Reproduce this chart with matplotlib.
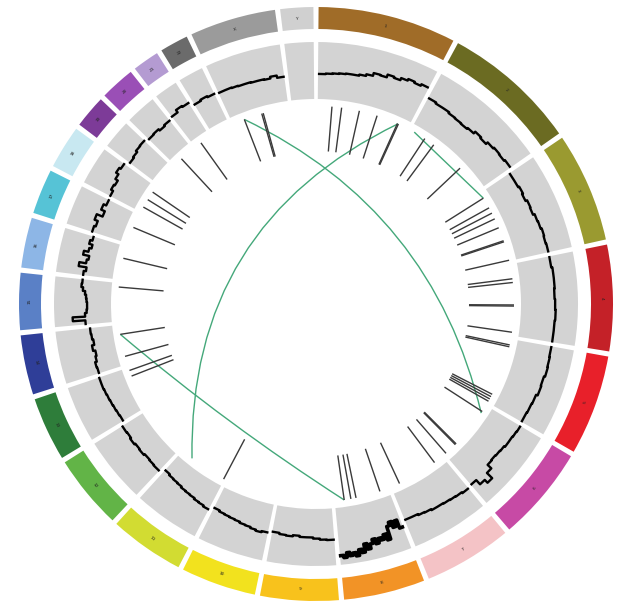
import numpy as np
import matplotlib
matplotlib.use('Agg')
import matplotlib.pyplot as plt
from matplotlib.path import Path
from matplotlib.patches import PathPatch

# chromosomes (hg19 sizes, Mb)
chroms = ['1', '2', '3', '4', '5', '6', '7', '8', '9', '10', '11', '12',
          '13', '14', '15', '16', '17', '18', '19', '20', '21', '22', 'X', 'Y']
chrom_len = [249.3, 243.2, 198.0, 191.2, 180.9, 171.1, 159.1, 146.4, 141.2, 135.5,
             135.0, 133.9, 115.2, 107.3, 102.5, 90.4, 81.2, 78.1, 59.1, 63.0,
             48.1, 51.3, 155.3, 59.4]
chrom_colors = ['#a06c28', '#6b6b22', '#9a9a30', '#c42128', '#e8202a', '#c74aa5',
                '#f4c3c6', '#f29326', '#f8c21c', '#f2e21e', '#d2dc32', '#62b447',
                '#2e7d3a', '#2f3e98', '#5a80c6', '#8db6e6', '#56c3d6', '#c8e8f1',
                '#7d3b98', '#9a4fb6', '#b49bd2', '#6b6b6b', '#9b9b9b', '#d0d0d0']

# copy number track, position inside grey band (0 = inner edge, 1 = outer edge)
cn_1 = [0.44, 0.45, 0.46, 0.47, 0.48, 0.48, 0.50, 0.53, 0.58, 0.57, 0.62, 0.60, 0.64, 0.67, 0.65, 0.68]
cn_2 = [0.52, 0.50, 0.50, 0.48, 0.47, 0.46, 0.48, 0.52, 0.50, 0.54, 0.56, 0.55, 0.57]
cn_3 = [0.50, 0.50, 0.52, 0.50, 0.53, 0.52, 0.55, 0.56, 0.58, 0.57, 0.58]
cn_4 = [0.58, 0.60, 0.60, 0.59, 0.60, 0.61, 0.60, 0.60]
cn_5 = [0.60, 0.61, 0.62, 0.60, 0.61, 0.58, 0.57, 0.56]
cn_6 = [0.58, 0.57, 0.56, 0.56, 0.54, 0.53, 0.52, 0.53, 0.62, 0.75, 0.68, 0.58]
cn_7 = [0.60, 0.58, 0.57, 0.56, 0.55, 0.55, 0.53, 0.52, 0.50, 0.50]
cn_8 = [0.60, 0.45, 0.55, 0.44, 0.50, 0.73, 0.62, 0.70, 0.66, 0.74, 0.65, 0.72, 0.80,
        0.70, 0.84, 0.78, 0.88, 0.82, 0.86, 0.80, 0.88, 0.84]
cn_9 = [0.55, 0.54, 0.52, 0.50, 0.50, 0.48, 0.50, 0.49, 0.47]
cn_10 = [0.50, 0.52, 0.50, 0.48, 0.47, 0.45, 0.44, 0.43, 0.42, 0.40]
cn_11 = [0.47, 0.45, 0.44, 0.42, 0.41, 0.40, 0.38, 0.37, 0.36, 0.34]
cn_12 = [0.42, 0.41, 0.40, 0.42, 0.41, 0.43, 0.41, 0.42]
cn_13 = [0.36, 0.37, 0.38, 0.39, 0.40, 0.41, 0.42, 0.42]
cn_14 = [0.40, 0.41, 0.38, 0.36, 0.40, 0.36, 0.38, 0.39]
cn_15 = [0.46, 0.68, 0.46, 0.43, 0.42, 0.42, 0.43, 0.44, 0.46, 0.50, 0.53, 0.52]
cn_16 = [0.52, 0.48, 0.62, 0.50, 0.47, 0.58, 0.50, 0.46, 0.52, 0.48]
cn_17 = [0.53, 0.50, 0.56, 0.45, 0.52, 0.47]
cn_18 = [0.48, 0.52, 0.50, 0.55, 0.60, 0.57]
cn_19 = [0.50, 0.52, 0.55, 0.56]
cn_20 = [0.52, 0.53, 0.50, 0.52]
cn_21 = [0.55, 0.60, 0.58]
cn_22 = [0.50, 0.52, 0.50]
cn_X = [0.48, 0.48, 0.47, 0.46, 0.46, 0.45, 0.45, 0.44, 0.47, 0.43]
cn_Y = []
cn_profiles = [cn_1, cn_2, cn_3, cn_4, cn_5, cn_6, cn_7, cn_8, cn_9, cn_10, cn_11, cn_12,
               cn_13, cn_14, cn_15, cn_16, cn_17, cn_18, cn_19, cn_20, cn_21, cn_22, cn_X, cn_Y]

# breakpoints (inner tick track)
tick_chrom = ['X', 'X', 'X', '1', '1', '1', '1', '1', '1', '2', '2', '2',
              '3', '3', '3', '3', '3', '3', '3', '3', '4', '4', '4', '4', '4',
              '5', '5', '5', '5', '5', '5', '6', '6', '6', '6', '7', '7',
              '8', '8', '8', '8', '11', '13', '13', '14', '14', '15', '16', '17',
              '18', '18', '18', '20', '21']
tick_pos = [33, 82, 86, 38, 64, 112, 161, 219, 222, 44, 73, 167,
            16, 46, 62, 79, 105, 142, 145, 196, 39, 49, 109, 112, 182,
            16, 21, 156, 163, 170, 177, 19, 130, 133, 167, 26, 135,
            23, 89, 103, 121, 2, 91, 107, 22, 82, 92, 58, 45,
            15, 38, 62, 24, 19]

# links
link_chrom_a = ['X', '1', '2', '14']
link_pos_a = [33, 221, 11, 82]
link_chrom_b = ['6', '11', '3', '8']
link_pos_b = [24, 103, 16, 121]

gap = 1.0
deg_per_mb = (360 - 24 * gap) / sum(chrom_len)
starts = []
acc = 0.5
for L in chrom_len:
    starts.append(acc)
    acc += L * deg_per_mb + gap


def to_theta(c, pos):
    i = chroms.index(c) if isinstance(c, str) else c
    return np.radians(starts[i] + np.asarray(pos) * deg_per_mb)


fig = plt.figure(figsize=(6.25, 6.05), dpi=100)
R = 301
ax = fig.add_axes([(316 - R) / 625, 0, 2 * R / 625, 2 * R / 605], projection='polar')
ax.set_theta_zero_location('N')
ax.set_theta_direction(-1)

spans = np.radians(np.array(chrom_len) * deg_per_mb)
mids = np.array([to_theta(i, L / 2) for i, L in enumerate(chrom_len)])

# outer ideogram ring
ax.bar(mids, 22, width=spans, bottom=275, color=chrom_colors, edgecolor='none')
for i, c in enumerate(chroms):
    a = np.degrees(mids[i])
    rot = -a if (a < 90 or a > 270) else 180 - a
    ax.text(mids[i], 286, c, fontsize=3.2, color='#222222', ha='center', va='center',
            rotation=rot, rotation_mode='anchor')

# grey copy-number band
ax.bar(mids, 57, width=spans, bottom=205, color='#d3d3d3', edgecolor='none')
for i, vals in enumerate(cn_profiles):
    if not vals:
        continue
    n = len(vals)
    edges = np.linspace(0.01, 0.99, n + 1) * chrom_len[i]
    th = to_theta(i, edges)
    rr = 205 + 57 * np.append(vals, vals[-1])
    lw = 2.6 if chroms[i] == '8' else 1.7
    ax.plot(th, rr, drawstyle='steps-post', color='black', lw=lw)

# breakpoint ticks
th_ticks = [to_theta(c, p) for c, p in zip(tick_chrom, tick_pos)]
ax.vlines(th_ticks, 153, 198, colors='#3a3a3a', lw=1.0)

# links as bezier curves
link_r = 198
for ca, pa, cb, pb in zip(link_chrom_a, link_pos_a, link_chrom_b, link_pos_b):
    t1 = float(to_theta(ca, pa))
    t2 = float(to_theta(cb, pb))
    d = (t2 - t1) % (2 * np.pi)
    half = d / 2 if d <= np.pi else (2 * np.pi - d) / 2
    tm = t1 + d / 2 if d <= np.pi else t1 + d / 2 + np.pi
    rc = max(150, link_r * np.cos(half))
    path = Path([(t1, link_r), (tm, rc), (t2, link_r)], [Path.MOVETO, Path.CURVE3, Path.CURVE3])
    ax.add_patch(PathPatch(path, fill=False, edgecolor='#44a87a', lw=1.0, transform=ax.transData))

ax.set_ylim(0, R)
ax.set_axis_off()

fig.savefig('out.png', dpi=100)
